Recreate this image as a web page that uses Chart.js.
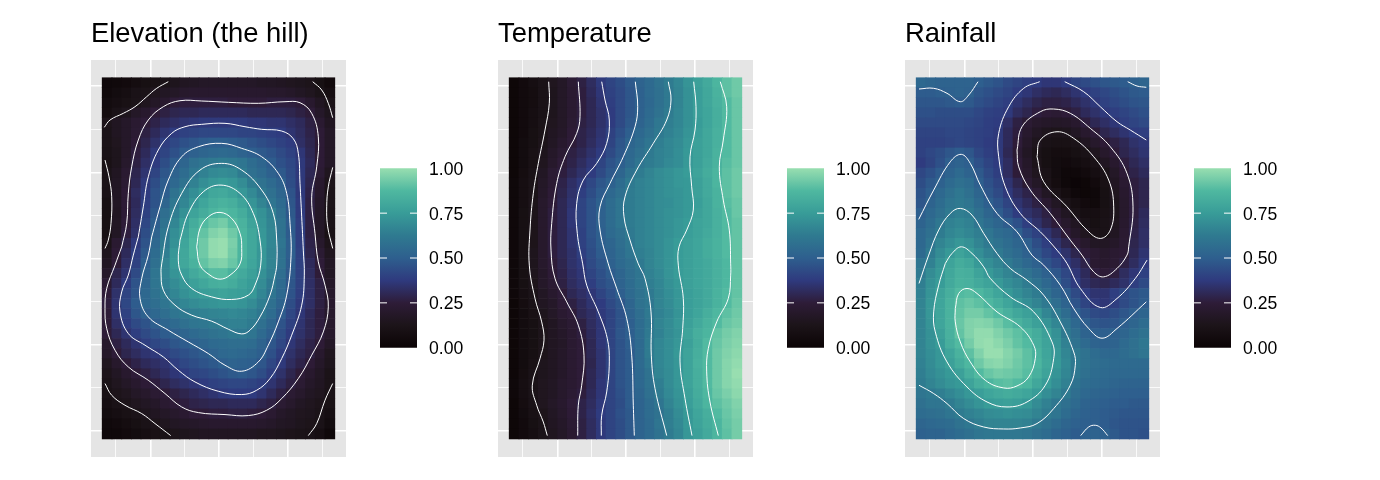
<!DOCTYPE html>
<html>
<head>
<meta charset="utf-8">
<title>Elevation, temperature, rainfall</title>
<script src="https://cdn.jsdelivr.net/npm/chart.js@4"></script>
<style>
  body { margin: 0; background: #fff; width: 1380px; height: 480px; overflow: hidden; }
  canvas { position: absolute; }
</style>
</head>
<body>
<canvas id="panel0" width="255" height="457" style="left:91px;top:0"></canvas>
<canvas id="legend0" width="97" height="215" style="left:380px;top:150px"></canvas>
<canvas id="panel1" width="255" height="457" style="left:498px;top:0"></canvas>
<canvas id="legend1" width="97" height="215" style="left:787px;top:150px"></canvas>
<canvas id="panel2" width="255" height="457" style="left:905px;top:0"></canvas>
<canvas id="legend2" width="97" height="215" style="left:1194px;top:150px"></canvas>
<script>
var titles = ['Elevation (the hill)', 'Temperature', 'Rainfall'];
var legendTicks = [0, 0.25, 0.5, 0.75, 1];

// grid lines, in the same map units as the contours (east 0-232, north 0-361)
var gridEast = [13, 48.4, 82.4, 116.7, 151, 185.4, 219.7];
var gridNorth = [8, 51.4, 94.4, 137.7, 180.4, 223.5, 266.4, 309.4, 352.7];

var colourValues = [0, 0.125, 0.25, 0.375, 0.5, 0.625, 0.75, 0.875, 1];
var colourHex = ['#0b0405', '#1c1419', '#2e1c38', '#2f3a7e', '#2e5f8e', '#2f7a90', '#389c98', '#4fb8a0', '#98deb0'];

// cell values in hundredths, rows run north to south
var elevationGrid = [
[3,4,5,7,9,10,12,14,16,17,18,18,18,18,18,18,17,17,16,15,14,13,9,5],
[4,6,8,11,12,15,17,18,20,21,21,21,21,21,21,21,21,20,20,19,17,15,12,8],
[6,8,10,12,15,18,21,25,26,26,26,26,26,25,25,25,25,26,26,26,25,21,16,12],
[7,11,14,18,21,25,27,29,30,30,31,31,31,31,31,30,30,30,30,29,27,25,19,14],
[13,16,19,22,25,28,31,33,35,36,37,37,37,37,37,36,36,35,35,33,31,27,22,16],
[12,16,19,23,27,31,35,38,40,41,42,42,42,42,41,41,40,39,38,35,32,28,24,18],
[12,15,19,24,29,34,39,42,45,47,49,50,50,49,48,46,44,42,40,38,33,29,24,18],
[11,14,19,26,31,37,41,45,49,51,53,54,55,54,52,50,48,46,43,40,36,30,24,18],
[10,14,20,27,33,38,44,49,53,58,60,62,63,62,60,56,53,49,45,42,37,31,24,18],
[12,16,22,29,35,41,47,52,56,61,65,68,69,68,63,58,55,51,48,43,37,30,23,15],
[12,17,23,30,37,44,49,54,59,65,70,73,75,73,69,63,59,55,51,44,37,29,21,13],
[11,17,24,32,38,46,50,59,65,70,75,80,81,78,73,68,62,58,53,46,37,28,20,12],
[9,17,24,31,39,46,53,61,67,73,79,83,85,83,78,72,66,60,55,47,38,27,19,12],
[9,16,24,32,40,48,57,64,71,78,82,86,88,86,82,76,71,65,57,48,38,27,18,11],
[9,17,25,33,42,50,59,67,75,82,88,92,94,89,85,78,72,66,59,49,39,27,18,11],
[9,17,26,34,44,52,61,70,77,85,91,96,98,93,86,80,73,67,59,49,39,27,18,10],
[12,22,29,37,46,54,62,71,79,87,93,99,100,95,86,80,74,67,60,50,39,28,20,13],
[14,24,31,39,48,56,64,73,80,87,93,99,100,94,86,80,73,66,59,50,40,29,23,15],
[16,25,33,40,50,58,66,74,80,85,91,95,96,92,85,79,73,66,59,49,40,31,25,17],
[19,29,35,43,52,60,66,72,76,81,85,89,89,85,81,77,71,65,57,48,40,32,25,17],
[23,31,38,46,53,60,65,69,73,77,80,83,84,82,78,75,69,62,55,47,40,33,27,19],
[25,34,41,47,54,59,63,67,71,74,76,77,78,77,76,74,67,60,54,46,39,33,27,20],
[26,35,42,49,54,57,60,64,67,69,71,72,73,73,72,69,64,58,52,44,37,33,27,21],
[25,35,40,47,51,54,57,60,62,64,65,66,67,68,67,65,61,56,49,42,36,31,26,20],
[25,33,38,43,46,50,53,55,58,60,61,63,64,65,65,63,58,53,46,40,35,30,26,20],
[25,30,35,39,43,46,49,51,53,55,57,59,60,62,62,60,55,50,44,38,34,30,26,20],
[20,27,31,35,39,42,44,47,49,51,53,55,56,57,57,56,52,47,42,36,32,28,24,18],
[19,25,29,32,35,37,40,43,45,47,49,52,54,55,54,53,50,45,39,34,30,27,21,15],
[15,20,25,28,31,33,35,39,42,44,46,48,50,52,51,50,47,42,37,32,28,24,19,14],
[13,17,21,25,27,30,33,36,38,41,42,44,46,48,49,47,44,39,34,29,25,21,17,12],
[11,15,18,21,24,26,29,32,34,36,38,40,41,42,42,41,39,35,31,27,23,19,16,12],
[10,13,15,18,20,23,25,27,29,31,33,35,37,38,38,38,35,31,27,23,20,17,15,11],
[8,11,13,15,17,19,22,25,26,28,29,30,30,31,31,31,29,27,23,20,17,15,13,10],
[6,8,10,12,14,16,18,20,22,25,25,26,26,27,27,26,25,22,19,17,15,14,12,8],
[4,5,7,9,11,13,15,17,18,19,20,21,21,21,21,21,20,19,17,16,14,13,11,6],
[3,3,5,6,8,10,11,13,14,15,16,16,16,16,16,16,15,15,14,13,12,11,8,3]
];

var temperatureGrid = [
[2,5,8,11,15,18,23,27,32,37,41,44,48,52,55,59,63,67,72,77,81,86,90,93],
[2,5,7,11,14,18,22,26,31,36,40,43,47,51,55,58,62,66,71,76,80,85,90,93],
[2,5,7,11,14,18,22,26,30,35,39,43,47,51,54,58,62,66,71,76,80,84,88,92],
[2,5,8,11,14,18,22,26,30,34,38,43,47,51,55,59,63,67,71,76,79,83,88,92],
[2,5,8,12,15,18,23,27,30,34,38,43,48,52,56,61,64,67,71,75,79,83,88,92],
[2,5,9,12,16,19,24,28,31,35,40,45,50,54,58,62,65,68,72,76,80,84,88,92],
[2,6,9,13,17,21,25,28,32,36,41,47,53,56,60,64,67,69,73,77,80,84,88,92],
[2,6,10,14,19,23,27,30,34,38,43,48,54,58,62,65,67,70,74,77,80,85,88,92],
[2,6,10,15,20,25,28,32,36,41,46,50,55,60,63,65,68,70,74,77,81,85,89,92],
[2,7,11,17,23,26,30,34,38,43,48,53,59,63,66,69,71,73,75,78,82,86,90,93],
[3,8,12,18,23,28,33,37,42,47,51,56,62,65,67,69,71,73,74,77,81,86,90,93],
[3,8,12,19,24,29,34,39,44,49,54,58,63,65,67,69,71,72,74,77,81,85,90,93],
[3,8,13,20,25,30,35,41,46,51,56,60,63,65,67,69,70,72,74,76,80,85,89,92],
[3,9,13,20,26,30,36,41,46,51,56,60,63,65,67,69,71,72,74,77,80,84,88,92],
[3,9,13,20,26,30,36,41,46,51,56,60,63,65,67,69,71,73,75,78,80,84,88,91],
[3,9,13,20,26,30,35,40,46,50,55,58,62,65,67,69,71,73,76,78,81,84,88,91],
[3,9,13,20,26,30,35,40,45,50,53,57,61,65,67,69,72,75,77,79,82,85,88,91],
[3,9,14,20,26,30,34,39,44,49,52,56,60,64,66,69,72,75,77,79,82,85,88,91],
[3,9,14,20,25,29,34,37,43,47,51,55,58,62,66,69,72,75,77,79,81,84,87,91],
[3,9,14,19,24,28,33,36,41,45,49,53,57,60,65,68,72,75,77,79,81,84,87,91],
[3,9,13,19,23,27,32,35,39,44,47,52,56,60,64,67,71,74,77,79,81,84,87,91],
[3,8,12,17,21,25,30,33,36,41,45,50,55,59,62,66,70,73,76,78,81,85,88,91],
[2,7,11,16,19,24,27,31,35,38,43,47,53,59,61,66,69,73,76,78,81,85,88,92],
[2,6,10,14,18,22,25,30,33,37,41,46,52,57,62,65,68,72,76,79,83,87,90,93],
[2,6,9,13,16,20,23,27,32,36,41,46,50,56,61,66,69,73,77,81,85,88,92,94],
[2,6,9,13,16,19,22,26,31,36,41,47,50,56,62,65,69,72,78,83,86,91,94,96],
[2,6,9,13,16,18,22,25,30,36,41,46,50,55,63,67,70,73,77,82,88,92,95,97],
[2,6,9,13,16,19,22,25,30,35,41,46,49,55,63,67,70,74,78,83,88,93,96,98],
[2,6,10,14,16,19,22,25,29,35,41,46,49,55,61,67,70,73,78,84,88,93,97,99],
[2,7,11,14,16,19,22,25,30,35,41,46,49,54,59,66,69,73,78,83,88,93,97,100],
[3,8,12,15,17,20,22,25,30,36,41,46,49,54,59,64,69,73,78,83,88,93,97,99],
[3,8,12,15,17,20,23,26,31,36,41,45,49,53,58,63,68,72,77,82,87,92,95,98],
[2,7,11,15,18,21,25,28,32,37,41,44,49,52,56,60,66,71,76,81,86,90,93,96],
[2,6,10,13,17,20,24,28,33,38,41,45,48,52,56,59,64,69,74,79,83,88,92,95],
[2,5,9,12,16,19,23,27,32,37,41,44,48,52,55,60,64,68,74,78,82,86,91,94],
[2,5,8,12,15,18,22,27,32,37,41,44,48,52,55,59,63,67,73,77,81,86,90,94]
];

var rainfallGrid = [
[54,53,52,52,52,52,50,48,46,43,41,39,38,36,36,38,41,43,45,47,48,49,51,53],
[49,49,50,51,52,51,47,45,43,41,38,36,33,31,30,32,35,38,40,42,44,46,48,49],
[47,47,47,48,49,48,45,43,41,39,35,32,29,27,27,28,31,34,37,40,42,44,46,47],
[45,45,44,44,44,44,42,40,39,37,32,29,26,24,23,25,27,31,34,37,39,41,43,45],
[43,43,43,43,43,42,41,39,38,33,27,23,20,19,18,19,21,26,30,33,36,39,41,43],
[41,41,41,42,42,41,40,39,37,31,26,21,17,14,13,14,17,21,25,29,32,35,38,39],
[40,40,40,41,42,41,40,38,37,31,25,19,14,11,10,10,12,16,20,24,27,30,34,36],
[40,42,44,47,49,47,42,39,37,30,23,17,12,9,7,7,9,11,15,20,25,29,32,35],
[38,41,45,50,52,50,45,41,38,32,25,19,13,9,6,5,6,8,11,16,21,26,30,33],
[42,45,49,52,55,52,48,43,39,32,25,20,15,11,6,3,3,5,8,12,18,24,28,31],
[44,48,51,55,58,56,50,45,41,35,29,23,18,12,7,3,1,2,5,10,16,22,26,29],
[46,50,54,58,61,58,53,47,43,37,32,28,23,17,11,7,3,2,3,9,15,21,26,29],
[47,52,56,60,62,60,55,50,46,41,35,31,27,22,17,12,8,5,4,9,14,20,26,29],
[50,54,58,62,64,63,58,53,49,44,38,34,31,27,21,16,11,8,8,10,14,20,26,31],
[52,56,61,65,67,65,60,56,53,49,45,39,34,29,25,20,16,11,9,11,15,21,27,32],
[54,58,63,67,69,67,64,60,56,54,50,44,40,35,30,24,19,15,11,11,16,22,28,33],
[54,60,66,70,73,71,66,62,59,56,53,50,44,39,34,29,24,20,17,17,19,23,29,33],
[55,63,69,74,78,75,70,65,62,58,55,51,47,42,38,34,29,25,22,20,22,24,30,35],
[60,65,72,78,82,80,74,70,66,62,58,54,51,46,42,37,33,28,22,21,23,27,32,37],
[62,69,74,80,84,83,78,74,70,66,62,59,55,51,47,42,36,31,26,24,26,32,36,40],
[64,71,75,81,85,84,81,78,74,70,67,63,59,54,50,44,38,33,30,29,31,34,39,43],
[65,72,78,83,88,89,87,83,79,74,70,66,63,58,53,49,43,38,35,35,39,43,46,48],
[66,73,79,85,90,92,90,87,83,79,74,70,66,62,57,52,46,41,37,36,39,43,46,49],
[66,73,79,85,91,94,94,91,88,84,80,77,74,67,62,56,50,46,43,42,44,47,50,53],
[66,72,79,85,92,96,97,96,93,89,85,81,77,72,67,60,54,50,47,46,47,50,53,56],
[66,71,77,84,91,96,99,99,96,93,90,86,82,77,71,62,57,52,50,50,51,53,56,59],
[66,71,75,83,88,94,99,100,98,95,91,88,83,78,72,65,59,55,52,51,52,55,58,61],
[66,70,73,79,85,90,96,100,100,97,94,90,85,79,73,67,62,59,56,54,54,56,58,60],
[65,69,73,77,82,87,93,97,98,96,93,90,86,80,74,68,62,59,57,56,55,55,55,55],
[64,68,71,74,77,83,88,92,94,93,92,89,84,78,72,67,61,58,56,55,54,54,54,54],
[63,66,69,72,74,78,83,86,89,90,88,86,80,75,70,65,59,56,55,54,53,52,52,52],
[60,62,64,67,70,73,76,79,81,82,81,79,75,70,66,62,57,54,53,52,51,50,50,50],
[58,60,60,63,66,69,72,75,76,77,76,74,69,65,61,58,55,52,51,50,49,49,48,48],
[56,57,58,60,63,65,67,69,70,71,70,69,66,63,60,56,53,51,50,49,48,47,47,47],
[53,54,55,56,59,61,64,66,66,66,66,65,62,59,56,53,51,50,50,49,47,46,46,46],
[51,52,52,54,56,58,60,61,61,61,61,60,58,56,53,51,49,51,52,51,48,46,46,45]
];

// contour lines, each one a list of [east, north] readings
var elevationLines = [
[[66,357],[54.4,350.4],[44.4,342],[32.7,332],[21,325.4],[7.7,318.7],[2,311.4]],
[[210.4,357],[219.4,348.7],[226,335.4],[230.4,321]],
[[2.7,278.7],[6.7,262],[9.4,242],[8.7,215.4],[6,198.7],[2.7,190.4]],
[[230.4,271.4],[226,252],[224.4,232],[225.4,212],[230.4,190.4]],
[[2.7,55.4],[9.4,43.7],[22.7,33.7],[39.4,25.4],[52.7,15.4],[68.4,3.4]],
[[230.4,55.4],[222.7,38.7],[214.4,15.4],[206,3.4]],
[[19.4,192],[24.4,215.4],[26,245.4],[29.4,272],[36,298.7],[46,318.7],[61,332],[77.7,338],[99.4,337.7],[126,336.4],[156,335.4],[182.7,337],[197.7,336],[209.4,325.4],[216,302],[214.4,272],[209.4,242],[212.7,205.4],[216,177],[222.7,153.7],[226,132],[221,107],[209.4,83.7],[196,60.4],[179.4,40.4],[164.4,28.7],[146,23.4],[122.7,24.4],[96,26.4],[79.4,32],[62.7,45.4],[46,58.7],[26,72],[12.7,88.7],[4.4,110.4],[2.7,130.4],[4.4,150.4],[12.7,173.7],[19.4,192]],
[[36,202],[41,232],[46,262],[56,288.7],[69.4,305.4],[82.7,312],[99.4,314.4],[122.7,315.4],[142.7,312],[159.4,309.4],[179.4,307.7],[191,300],[196,285.4],[197.7,255.4],[199.4,222],[201,188.7],[202,163.7],[199.4,133.7],[189.4,103.7],[179.4,80.4],[167.7,60.4],[154.4,48.7],[139.4,44.4],[116,47.7],[92.7,57],[76,68.7],[61,82],[42.7,93.7],[26,105.4],[17.7,127],[19.4,147],[26,163.7],[31,183.7],[36,202]],
[[49.4,202],[57.7,232],[66,258.7],[79.4,282],[96,292],[119.4,295.4],[139.4,290.4],[159.4,282],[176,265.4],[184.4,245.4],[187.7,215.4],[188.7,182],[184.4,143.7],[176,117],[166,93.7],[156,77],[139.4,67.7],[122.7,73.7],[106,85.4],[86,97],[66,108.7],[46,122],[37.7,140.4],[39.4,160.4],[46,183.7],[49.4,202]],
[[59.4,175],[66,212],[79.4,245.4],[97.7,268.7],[119.4,275.4],[139.4,268.7],[159.4,248.7],[171,225.4],[174.4,198.7],[174.4,173.7],[172.7,163.7],[167.7,143.7],[157.7,122],[147.7,108.7],[139.4,105],[126,109.7],[109.4,117.7],[89.4,123.7],[72.7,133.7],[61,148.7],[58.7,167],[59.4,175]],
[[77.7,198.7],[86,225.4],[101,247],[118.7,253.7],[137.7,245.4],[151,225.4],[157.7,198.7],[158.4,173.7],[152.7,153.7],[146,143.7],[129.4,139.4],[109.4,142],[89.4,150.4],[79.4,163.7],[76,178.7],[77.7,198.7]],
[[94.4,192],[97.7,210.4],[106,222],[117.7,226.4],[129.4,220.4],[137.7,205.4],[139.4,190.4],[137.7,175],[127.7,163.7],[117.7,159.7],[107.7,163.7],[97.7,173.7],[94.4,192]]
];

var temperatureLines = [
[[39.4,357],[40,335.4],[35.7,308.7],[29,275.4],[24,245.4],[20.7,208.7],[20,173.7],[25.7,140.4],[32.4,117],[34.7,98.7],[30.7,80.4],[23,53.7],[27.4,33.7],[34,17],[38,3.4]],
[[69,357],[70.7,322],[67.4,305.4],[55.7,282],[47.4,255.4],[42.4,215.4],[41.7,188.7],[45.7,160.4],[57.4,137],[69,113.7],[74.7,83.7],[72.4,53.7],[69,33.7],[68.4,3.4]],
[[92.4,357],[95.7,338.7],[100,318.7],[97.4,295.4],[87.4,275.4],[74,258.7],[67.4,235.4],[68,205.4],[73.4,175],[77.4,153.7],[89,127],[98,100.4],[100,77],[97.4,47],[92.4,23.7],[92,3.4]],
[[126,357],[128.4,332],[125.7,312],[114,282],[100.7,255.4],[90.7,232],[90.7,208.7],[99,175],[107.4,150.4],[117.4,120.4],[122.4,83.7],[124,33.7],[125,3.4]],
[[159,357],[161.7,338.7],[157.4,318.7],[144,295.4],[127.4,268.7],[115.7,242],[114.7,222],[120.7,198.7],[129,175],[135.7,160.4],[141.7,127],[142,83.7],[145.7,50.4],[157.4,3.4]],
[[184.4,357],[186.7,332],[185.7,308.7],[180.7,282],[182.4,252],[184,228.7],[177.4,208.7],[169.7,192],[169,173.7],[174,140.4],[173.4,110.4],[170.7,77],[175.7,40.4],[182.7,3.4]],
[[211,357],[217.4,332],[214,298.7],[210,272],[214,238.7],[220,208.7],[221.4,175],[221.4,163.7],[219,140.4],[207.4,117],[199,90.4],[197.4,67],[200.7,37],[209,3.4]]
];

var rainfallLines = [
[[2.7,349.7],[17.4,350.4],[30.7,345.4],[44,337],[52.4,343.7],[61.7,357]],
[[211.4,357],[220.7,352.7],[230,351.4]],
[[164.4,3.4],[172.4,12],[179,13.7],[184.7,11],[191.4,3.4]],
[[120.7,282],[124,298.7],[140.7,307],[157.4,300.4],[177.4,282],[192.4,258.7],[197.4,232],[194,208.7],[184,200.4],[170.7,208.7],[150.7,232],[127.4,257],[120.7,282]],
[[100.7,288.7],[105.7,312],[124,327],[137.4,329.7],[154,325.4],[174,310.4],[194,292],[210.7,265.4],[216.7,232],[212.4,192],[210.7,183.7],[200.7,170.4],[187.4,162],[177.4,167],[165.7,183.7],[154,198.7],[134,225.4],[114,248.7],[102.4,272],[100.7,288.7]],
[[123.4,357],[107.4,350.4],[92.4,332],[82.4,305.4],[82.4,282],[89,252],[104,225.4],[124,207],[140.7,188.7],[150.7,175.4],[164,150.4],[184,131.4],[200.7,140.4],[219,160.4],[230.7,178.7]],
[[148.4,357],[167.4,347],[184,332],[200.7,317],[214,308.7],[230,298.7]],
[[2.4,219.4],[17.4,248.7],[34,277],[45,284.4],[54,275.4],[64,253.7],[80.7,225.4],[100.7,207],[115.7,183.7],[127.4,173.7],[144,153.7],[157.4,130.4],[172.4,110.4],[185.7,100.7],[200.7,110.4],[230,137]],
[[2.7,155.4],[12.4,183.7],[22.4,208.7],[34,225.4],[44,230.4],[55.7,223.7],[67.4,205.4],[80.7,185.4],[94,170.4],[110.7,158.7],[127.4,143.7],[144,117],[157.4,87],[159,73.7],[154,53.7],[137.4,30.4],[120.7,15.4],[104,11],[87.4,10],[67.4,12],[47.4,20.4],[30.7,35.4],[17.4,45.4],[2.7,53.7]],
[[29,175.4],[35.7,185.4],[45,192],[55.7,185.4],[67.4,172],[74,160.4],[94,142],[117.4,127],[135.7,97],[137.4,80.4],[129,53.7],[110.7,37],[90.7,32],[70.7,37],[50.7,52],[30.7,77],[19,107],[17.4,127],[22.4,153.7],[29,175.4]],
[[39,130.4],[42.4,145.4],[50.7,150.4],[60.7,145.4],[80.7,127],[104,112],[117.4,93.7],[119,80.4],[112.4,62],[100.7,53],[87.4,51],[69,58.7],[54,77],[44,97],[39,117],[39,130.4]]
];

var grids = [elevationGrid, temperatureGrid, rainfallGrid];
var lines = [elevationLines, temperatureLines, rainfallLines];

Chart.defaults.font.family = '"Liberation Sans", Arial, sans-serif';
Chart.defaults.animation = false;
Chart.defaults.events = [];
Chart.defaults.plugins.legend.display = false;
Chart.defaults.plugins.tooltip.enabled = false;

function hexToRgb(hex) {
  return [parseInt(hex.substr(1, 2), 16), parseInt(hex.substr(3, 2), 16), parseInt(hex.substr(5, 2), 16)];
}

function colourFor(v) {
  var i = 0;
  while (i < colourValues.length - 2 && v > colourValues[i + 1]) i++;
  var t = (v - colourValues[i]) / (colourValues[i + 1] - colourValues[i]);
  var a = hexToRgb(colourHex[i]), b = hexToRgb(colourHex[i + 1]);
  return 'rgb(' + Math.round(a[0] + (b[0] - a[0]) * t) + ',' + Math.round(a[1] + (b[1] - a[1]) * t) + ',' + Math.round(a[2] + (b[2] - a[2]) * t) + ')';
}

var panelBackground = {
  id: 'panelBackground',
  beforeDraw: function (chart) {
    var a = chart.chartArea;
    chart.ctx.fillStyle = '#e5e5e5';
    chart.ctx.fillRect(a.left, a.top, a.right - a.left, a.bottom - a.top);
  }
};

function makePanel(index) {
  var grid = grids[index];
  var cells = [], cellColours = [];
  for (var r = 0; r < grid.length; r++) {
    for (var c = 0; c < grid[r].length; c++) {
      cells.push({ x: (c + 0.5) * 232.4 / 24, y: 361 - (r + 0.5) * 361 / 36 });
      cellColours.push(colourFor(grid[r][c] / 100));
    }
  }
  var datasets = lines[index].map(function (line) {
    return {
      data: line.map(function (p) { return { x: p[0], y: p[1] }; }),
      showLine: true,
      borderColor: '#fff',
      borderWidth: 1,
      tension: 0.4,
      pointRadius: 0,
      order: 0
    };
  });
  datasets.push({
    data: cells,
    pointStyle: 'rect',
    pointRadius: 7.5,
    pointBorderWidth: 0,
    pointBackgroundColor: cellColours,
    order: 1
  });

  new Chart(document.getElementById('panel' + index), {
    type: 'scatter',
    data: { datasets: datasets },
    plugins: [panelBackground],
    options: {
      responsive: false,
      layout: { autoPadding: false },
      plugins: {
        title: {
          display: true,
          text: titles[index],
          align: 'start',
          color: '#000',
          font: { size: 27.4, weight: 'normal' },
          padding: { top: 18.5, bottom: 8.6 }
        }
      },
      scales: {
        x: {
          min: -11.3, max: 243.7,
          afterBuildTicks: function (s) { s.ticks = gridEast.map(function (v) { return { value: v }; }); },
          ticks: { display: false },
          border: { display: false },
          grid: { color: '#fff', drawTicks: false, lineWidth: function (ctx) { return ctx.index % 2 ? 1.6 : 0.8; } }
        },
        y: {
          min: -18, max: 378.7,
          afterBuildTicks: function (s) { s.ticks = gridNorth.map(function (v) { return { value: v }; }); },
          ticks: { display: false },
          border: { display: false },
          grid: { color: '#fff', drawTicks: false, lineWidth: function (ctx) { return ctx.index % 2 ? 0.8 : 1.6; } }
        }
      }
    }
  });
}

// the short white marks inside the colour bar, at the inner legend ticks only
var legendMarks = {
  id: 'legendMarks',
  afterDatasetsDraw: function (chart) {
    var a = chart.chartArea, ctx = chart.ctx;
    ctx.strokeStyle = '#fff';
    ctx.lineWidth = 1;
    legendTicks.slice(1, -1).forEach(function (v) {
      var y = chart.scales.y.getPixelForValue(v);
      ctx.beginPath();
      ctx.moveTo(a.left, y); ctx.lineTo(a.left + 7, y);
      ctx.moveTo(a.right - 7, y); ctx.lineTo(a.right, y);
      ctx.stroke();
    });
  }
};

function makeLegend(index) {
  new Chart(document.getElementById('legend' + index), {
    type: 'bar',
    data: {
      labels: ['level'],
      datasets: [{
        data: [1],
        barPercentage: 1,
        categoryPercentage: 1,
        backgroundColor: function (ctx) {
          var a = ctx.chart.chartArea;
          if (!a) return colourHex[4];
          var g = ctx.chart.ctx.createLinearGradient(0, a.bottom, 0, a.top);
          colourValues.forEach(function (v, i) { g.addColorStop(v, colourHex[i]); });
          return g;
        }
      }]
    },
    plugins: [legendMarks],
    options: {
      responsive: false,
      layout: { autoPadding: false, padding: { top: 18.3, bottom: 17.3 } },
      scales: {
        x: { display: false },
        y: {
          position: 'right',
          min: 0, max: 1,
          afterBuildTicks: function (s) { s.ticks = legendTicks.map(function (v) { return { value: v }; }); },
          afterFit: function (s) { s.width = 60; },
          border: { display: false },
          grid: { display: false, drawTicks: true, tickLength: 12 },
          ticks: {
            color: '#000',
            padding: 0,
            labelOffset: 1.5,
            font: { size: 17.6 },
            callback: function (v) { return Number(v).toFixed(2); }
          }
        }
      }
    }
  });
}

for (var i = 0; i < 3; i++) {
  makePanel(i);
  makeLegend(i);
}
</script>
</body>
</html>
